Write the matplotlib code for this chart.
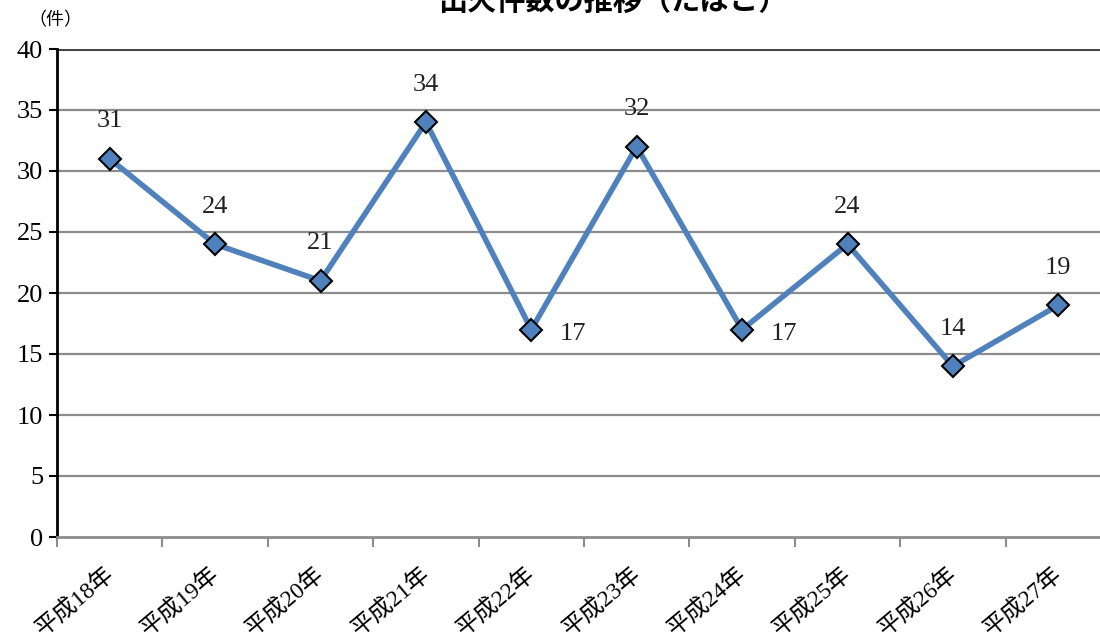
import matplotlib
matplotlib.use("Agg")
import matplotlib.pyplot as plt
import numpy as np

categories = ["平成18年", "平成19年", "平成20年", "平成21年", "平成22年",
              "平成23年", "平成24年", "平成25年", "平成26年", "平成27年"]
values = [31, 24, 21, 34, 17, 32, 17, 24, 14, 19]
label_pos = ["above", "above", "above", "above", "right",
             "above", "right", "above", "above", "above"]
yticks = [0, 5, 10, 15, 20, 25, 30, 35, 40]

serif = ["Liberation Serif", "Noto Sans CJK JP"]

fig = plt.figure(figsize=(11, 6.32), dpi=100)
ax = fig.add_axes([57/1100, 95/632, 1054/1100, 488/632])
ax.set_clip_on(False)

x = np.arange(len(values))
ax.set_xlim(-0.5, len(values) - 0.5)
ax.set_ylim(0, 40)

for t in yticks[1:]:
    ax.axhline(t, color="#8c8c8c" if t < 40 else "#444444", lw=1.6 if t < 40 else 2.2, zorder=1)

ax.plot(x, values, color="#4F81BD", lw=4, zorder=3, solid_capstyle="round")
ax.plot(x, values, ls="none", marker="D", ms=11, mfc="#4F81BD", mec="black", mew=1.5, zorder=4)

for xi, v, p in zip(x, values, label_pos):
    if p == "above":
        ax.annotate(str(v), (xi, v), xytext=(0, 27), textcoords="offset points",
                    ha="center", va="center", fontsize=19, family=serif, color="#222222")
    else:
        ax.annotate(str(v), (xi, v), xytext=(30, -3), textcoords="offset points",
                    ha="center", va="center", fontsize=19, family=serif, color="#222222")

for s in ["top", "right"]:
    ax.spines[s].set_visible(False)
ax.spines["left"].set_color("black")
ax.spines["left"].set_linewidth(2)
ax.spines["bottom"].set_color("#8c8c8c")
ax.spines["bottom"].set_linewidth(2)

ax.set_yticks(yticks)
ax.set_yticklabels([str(t) for t in yticks], family=serif, fontsize=19)
ax.tick_params(axis="y", length=6, width=1.5, color="black", pad=4)

ax.set_xticks(np.arange(len(values) + 1) - 0.5, minor=False)
ax.set_xticklabels([])
ax.tick_params(axis="x", length=7, width=1.5, color="#8c8c8c", direction="out")
for xi, c in zip(x, categories):
    ax.annotate(c, (xi, 0), xytext=(-4, -19), textcoords="offset points",
                ha="right", va="top", rotation=40, rotation_mode="anchor",
                fontsize=17, family=serif, annotation_clip=False)

fig.text(55/1100, 1 - 21/632, "（件）", family=serif, fontsize=13, ha="center", va="center")
fig.text(613/1100, 1 - 1/632, "出火件数の推移（たばこ）", family=["Noto Sans CJK JP"],
         fontweight="bold", fontsize=21, ha="center", va="center")

fig.savefig("out.png", dpi=100)
